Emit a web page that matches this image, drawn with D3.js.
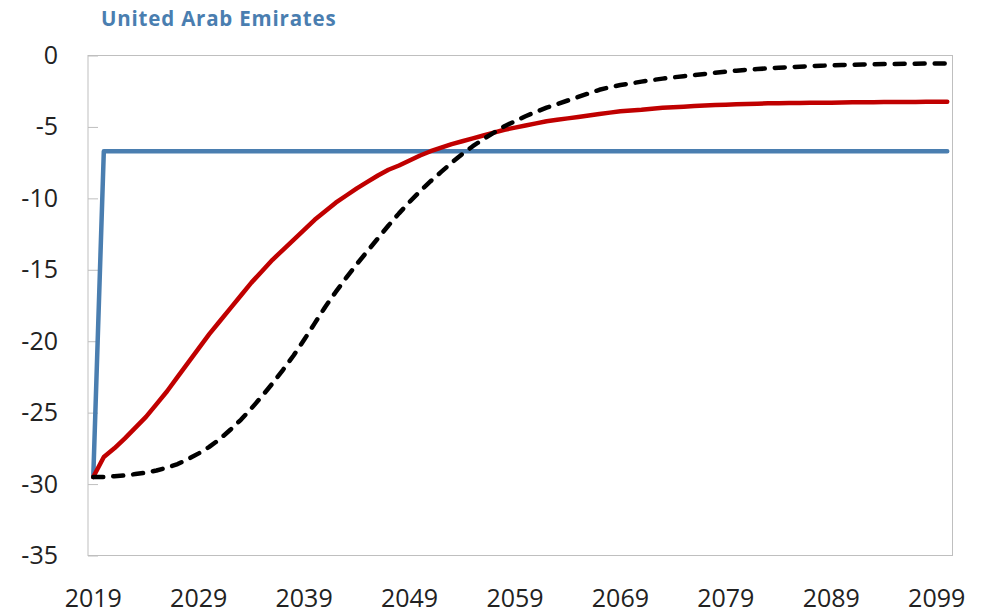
<!DOCTYPE html>
<html>
<head>
<meta charset="utf-8">
<script src="https://cdn.jsdelivr.net/npm/d3@7"></script>
<style>
  html, body { margin: 0; padding: 0; background: #fff; }
  svg { display: block; font-family: "Open Sans", "Noto Sans", sans-serif; }
</style>
</head>
<body>
<svg id="chart" width="981" height="613"></svg>
<script>
// ---- Data ----
const title = "United Arab Emirates";
const years = [2019,2020,2021,2022,2023,2024,2025,2026,2027,2028,2029,2030,2031,2032,2033,2034,2035,2036,2037,2038,2039,2040,2041,2042,2043,2044,2045,2046,2047,2048,2049,2050,2051,2052,2053,2054,2055,2056,2057,2058,2059,2060,2061,2062,2063,2064,2065,2066,2067,2068,2069,2070,2071,2072,2073,2074,2075,2076,2077,2078,2079,2080,2081,2082,2083,2084,2085,2086,2087,2088,2089,2090,2091,2092,2093,2094,2095,2096,2097,2098,2099,2100];
const xTickLabels = [2019,2029,2039,2049,2059,2069,2079,2089,2099];
const yTickValues = [0,-5,-10,-15,-20,-25,-30,-35];

const blueSeries = [-29.5,-6.7,-6.7,-6.7,-6.7,-6.7,-6.7,-6.7,-6.7,-6.7,-6.7,-6.7,-6.7,-6.7,-6.7,-6.7,-6.7,-6.7,-6.7,-6.7,-6.7,-6.7,-6.7,-6.7,-6.7,-6.7,-6.7,-6.7,-6.7,-6.7,-6.7,-6.7,-6.7,-6.7,-6.7,-6.7,-6.7,-6.7,-6.7,-6.7,-6.7,-6.7,-6.7,-6.7,-6.7,-6.7,-6.7,-6.7,-6.7,-6.7,-6.7,-6.7,-6.7,-6.7,-6.7,-6.7,-6.7,-6.7,-6.7,-6.7,-6.7,-6.7,-6.7,-6.7,-6.7,-6.7,-6.7,-6.7,-6.7,-6.7,-6.7,-6.7,-6.7,-6.7,-6.7,-6.7,-6.7,-6.7,-6.7,-6.7,-6.7,-6.7];

const redSeries = [-29.5,-28.1,-27.5,-26.8,-26.05,-25.3,-24.4,-23.5,-22.5,-21.5,-20.5,-19.5,-18.6,-17.7,-16.8,-15.9,-15.1,-14.3,-13.6,-12.9,-12.2,-11.5,-10.9,-10.3,-9.8,-9.3,-8.85,-8.4,-8.0,-7.7,-7.35,-7.0,-6.7,-6.45,-6.2,-6.0,-5.8,-5.6,-5.4,-5.2,-5.05,-4.9,-4.75,-4.6,-4.5,-4.4,-4.3,-4.2,-4.1,-4.0,-3.9,-3.85,-3.8,-3.72,-3.66,-3.62,-3.58,-3.54,-3.5,-3.47,-3.44,-3.41,-3.39,-3.37,-3.35,-3.34,-3.33,-3.32,-3.31,-3.3,-3.3,-3.29,-3.28,-3.27,-3.27,-3.26,-3.26,-3.25,-3.25,-3.24,-3.24,-3.23];

const blackSeries = [-29.5,-29.5,-29.45,-29.4,-29.3,-29.2,-29.05,-28.85,-28.6,-28.25,-27.85,-27.4,-26.85,-26.2,-25.5,-24.7,-23.85,-22.95,-22.0,-21.0,-19.9,-18.75,-17.6,-16.55,-15.55,-14.6,-13.7,-12.8,-11.9,-11.05,-10.25,-9.5,-8.8,-8.15,-7.5,-6.9,-6.35,-5.85,-5.4,-4.95,-4.6,-4.25,-3.95,-3.65,-3.4,-3.15,-2.9,-2.65,-2.4,-2.22,-2.07,-1.95,-1.83,-1.72,-1.62,-1.53,-1.45,-1.37,-1.29,-1.21,-1.13,-1.06,-1.0,-0.95,-0.9,-0.86,-0.82,-0.78,-0.75,-0.72,-0.69,-0.67,-0.65,-0.63,-0.61,-0.6,-0.59,-0.58,-0.57,-0.56,-0.56,-0.55];

// ---- Layout ----
const plot = { left: 88, top: 55.5, right: 952.5, bottom: 555.5 };

const svg = d3.select("#chart");

const x = d3.scaleBand().domain(years).range([plot.left, plot.right]);
const xc = d => x(d) + x.bandwidth() / 2;
const y = d3.scaleLinear().domain([-35, 0]).range([plot.bottom, plot.top]);

// Title
svg.append("text")
  .attr("x", 101).attr("y", 26)
  .attr("font-size", 20.5).attr("font-weight", 700)
  .attr("letter-spacing", 0.8)
  .attr("fill", "#4a7eb0")
  .text(title);

// Plot border
svg.append("rect")
  .attr("x", plot.left).attr("y", plot.top)
  .attr("width", plot.right - plot.left).attr("height", plot.bottom - plot.top)
  .attr("fill", "none").attr("stroke", "#bfbfbf").attr("stroke-width", 1);

// Y axis
const yAxis = d3.axisLeft(y).tickValues(yTickValues)
  .tickFormat(d => String(d))
  .tickSizeInner(-10).tickSizeOuter(0).tickPadding(30);
const gy = svg.append("g").attr("transform", `translate(${plot.left},0)`).call(yAxis);
gy.select(".domain").remove();
gy.selectAll(".tick line").attr("stroke", "#bfbfbf");
gy.selectAll(".tick text").attr("font-size", 25).attr("fill", "#222")
  .attr("font-family", "Open Sans, sans-serif");

// X axis
const xAxis = d3.axisBottom(x).tickValues(xTickLabels).tickFormat(d => String(d))
  .tickSize(0).tickPadding(33.5);
const gx = svg.append("g").attr("transform", `translate(0,${plot.bottom})`).call(xAxis);
gx.select(".domain").remove();
gx.selectAll(".tick text").attr("font-size", 25).attr("fill", "#222")
  .attr("font-family", "Open Sans, sans-serif");

// Lines
const line = d3.line().x((d, i) => xc(years[i])).y(d => y(d));

svg.append("path").datum(blueSeries)
  .attr("d", line).attr("fill", "none")
  .attr("stroke", "#4a7eb0").attr("stroke-width", 4.5)
  .attr("stroke-linejoin", "round").attr("stroke-linecap", "round");

svg.append("path").datum(redSeries)
  .attr("d", line).attr("fill", "none")
  .attr("stroke", "#c00000").attr("stroke-width", 4.5)
  .attr("stroke-linejoin", "round").attr("stroke-linecap", "round");

svg.append("path").datum(blackSeries)
  .attr("d", line).attr("fill", "none")
  .attr("stroke", "#000").attr("stroke-width", 4.5)
  .attr("stroke-dasharray", "10 10")
  .attr("stroke-linejoin", "round").attr("stroke-linecap", "round");
</script>
</body>
</html>
